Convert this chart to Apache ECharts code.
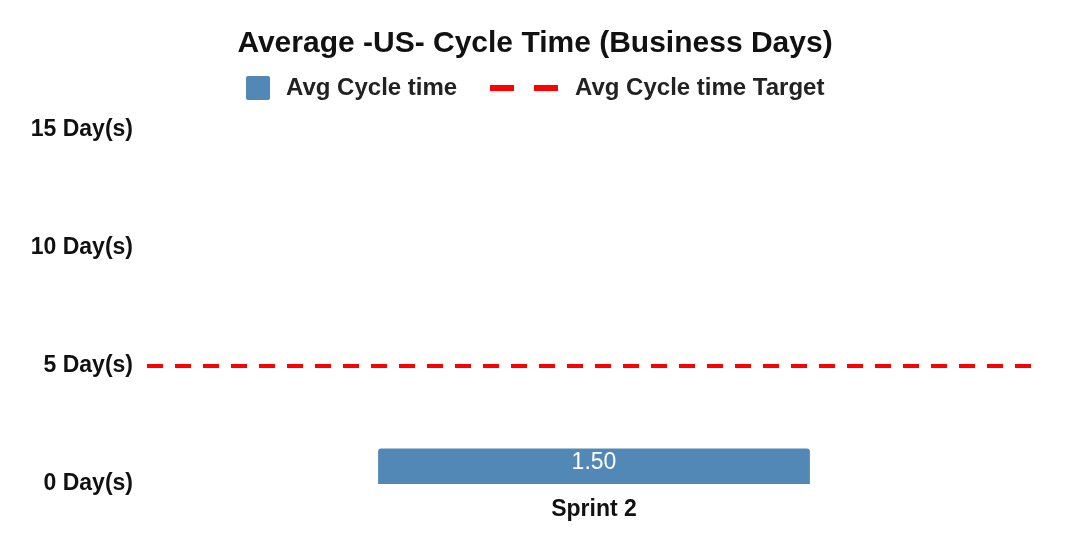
<!DOCTYPE html>
<html>
<head>
<meta charset="utf-8">
<script src="https://cdn.jsdelivr.net/npm/echarts@6/dist/echarts.min.js"></script>
<style>
  html, body { margin: 0; padding: 0; background: #fff; }
  #chart { width: 1070px; height: 548px; }
</style>
</head>
<body>
<div id="chart"></div>
<script>
// Chart data
var sprints = ['Sprint 2'];
var avgCycleTime = [1.5];
var cycleTarget = [5];
var yTickSuffix = ' Day(s)';

var font = 'Liberation Sans, Arial, sans-serif';

var chart = echarts.init(document.getElementById('chart'));
var option = {
    animation: false,
    title: {
        text: 'Average -US- Cycle Time (Business Days)',
        left: 'center',
        top: 24,
        textStyle: {fontFamily: font, fontSize: 30, fontWeight: 'bold', color: '#111'}
    },
    legend: [
        {
            data: ['Avg Cycle time'],
            left: 241,
            top: 71,
            itemWidth: 24,
            itemHeight: 24,
            icon: 'path://M2,0H22Q24,0 24,2V22Q24,24 22,24H2Q0,24 0,22V2Q0,0 2,0Z',
            textStyle: {fontFamily: font, fontSize: 24, fontWeight: 'bold', color: '#222', padding: [0, 0, 0, 11]}
        },
        {
            // two dashes drawn as the legend icon
            data: [{name: 'Avg Cycle time Target', icon: 'path://M0,0H24V6H0Z M44,0H68V6H44Z'}],
            left: 485,
            top: 71,
            itemWidth: 68,
            itemHeight: 24,
            textStyle: {fontFamily: font, fontSize: 24, fontWeight: 'bold', color: '#222', padding: [0, 0, 0, 12]}
        }
    ],
    grid: {left: 147, right: 29, top: 130, bottom: 64, containLabel: false},
    xAxis: {
        type: 'category',
        data: sprints,
        axisLine: {show: false},
        axisTick: {show: false},
        axisLabel: {margin: 14, fontFamily: font, fontSize: 23, fontWeight: 'bold', color: '#111'}
    },
    yAxis: {
        type: 'value',
        min: 0,
        max: 15,
        interval: 5,
        splitLine: {show: false},
        axisLine: {show: false},
        axisTick: {show: false},
        axisLabel: {
            margin: 14,
            fontFamily: font, fontSize: 23, fontWeight: 'bold', color: '#111',
            formatter: function (v) { return v + yTickSuffix; }
        }
    },
    series: [
        {
            name: 'Avg Cycle time',
            type: 'bar',
            data: avgCycleTime,
            barWidth: '48.3%',
            itemStyle: {color: '#5288b5', borderRadius: [3, 3, 0, 0]},
            label: {
                show: true,
                position: 'insideTop',
                distance: 3,
                color: '#fff',
                fontFamily: font,
                fontSize: 23,
                formatter: function (p) { return p.value.toFixed(2); }
            }
        },
        {
            name: 'Avg Cycle time Target',
            type: 'line',
            data: cycleTarget,
            symbol: 'none',
            showSymbol: false,
            lineStyle: {color: '#ff0000', type: [16, 12], width: 4},
            itemStyle: {color: '#ff0000'},
            markLine: {
                silent: true,
                symbol: 'none',
                label: {show: false},
                lineStyle: {color: '#ff0000', type: [16, 12], width: 4},
                data: [{yAxis: cycleTarget[0]}]
            }
        }
    ]
};
chart.setOption(option);
</script>
</body>
</html>
